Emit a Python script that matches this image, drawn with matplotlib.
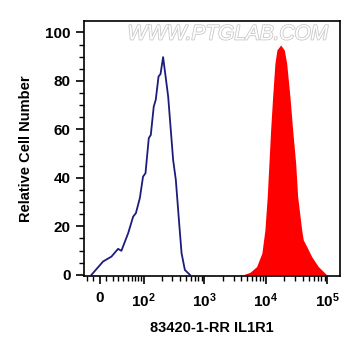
import numpy as np
import matplotlib
matplotlib.use("Agg")
import matplotlib.pyplot as plt
import matplotlib.ticker as mticker
import matplotlib.patheffects as pe

plt.rcParams['font.family'] = ['Liberation Sans', 'DejaVu Sans']
plt.rcParams['mathtext.fontset'] = 'custom'
plt.rcParams['mathtext.rm'] = 'Liberation Sans:bold'
plt.rcParams['mathtext.bf'] = 'Liberation Sans:bold'

# control (blue outline) histogram: fluorescence vs relative count
ctrl_x = [-12.6, 5.0, 18, 29.6, 36, 51, 64, 72, 85, 97, 107, 122, 132, 148,
          160, 178, 192, 212, 257, 310, 343, 389, 426, 482, 582]
ctrl_y = [0, 5.5, 7.5, 10.7, 9.9, 17.2, 24, 25.4, 31.6, 40.5, 41.9, 56.4, 57.7,
          69.4, 72.2, 81.8, 82.8, 89.8, 73.5, 47.4, 39.2, 21.3, 8.9, 2, 0]

# stained sample (red filled) histogram
stain_x = [4238, 5508, 7078, 8628, 9660, 10530, 11226, 11956, 12888, 14046,
           15140, 17396, 19910, 21780, 24620, 27240, 30500, 32860, 38180,
           40540, 46060, 55540, 71100, 97420]
stain_y = [0, 1, 3.4, 9, 18.6, 32.3, 46.1, 59.8, 73.5, 87.3, 92.8, 94.8, 92.8,
           87.3, 73.5, 59.8, 46.1, 32.3, 18.6, 14.4, 11.7, 7.5, 3.4, 0]

xticks = [0, 1e2, 1e3, 1e4, 1e5]
xticklabels = ['0', r'$\mathbf{10^{2}}$', r'$\mathbf{10^{3}}$',
               r'$\mathbf{10^{4}}$', r'$\mathbf{10^{5}}$']
yticks = [0, 20, 40, 60, 80, 100]

fig = plt.figure(figsize=(3.61, 3.56), dpi=100)
ax = fig.add_axes([0.2327, 0.2247, 0.709, 0.717])
ax.set_xscale('asinh', linear_width=40)

ax.fill_between(stain_x, stain_y, 0, color='#ff0000', lw=0)
ax.plot(ctrl_x, ctrl_y, color='#1c1c7a', lw=1.3)

ax.set_xlim(-25, 160000)
ax.set_ylim(-0.5, 104.8)

# minor ticks like a flow cytometry biexponential axis
minor = [-20, -10] + list(range(10, 100, 10))
for dec in [1e2, 1e3, 1e4]:
    minor += [dec * m for m in range(2, 10)]
ax.xaxis.set_major_locator(mticker.FixedLocator(xticks))
ax.xaxis.set_major_formatter(mticker.FixedFormatter(xticklabels))
ax.xaxis.set_minor_locator(mticker.FixedLocator(minor))
ax.xaxis.set_minor_formatter(mticker.NullFormatter())
ax.yaxis.set_major_locator(mticker.FixedLocator(yticks))
ax.yaxis.set_minor_locator(mticker.MultipleLocator(5))

ax.tick_params(axis='both', which='major', direction='out', length=6, width=1.2,
               labelsize=11)
ax.tick_params(axis='both', which='minor', direction='out', length=3.5, width=1)
ax.tick_params(axis='x', which='major', pad=5)
for lab in ax.get_xticklabels() + ax.get_yticklabels():
    lab.set_fontweight('bold')
for s in ax.spines.values():
    s.set_linewidth(1.2)

ax.set_xlabel('83420-1-RR IL1R1', fontsize=10.5, fontweight='bold', labelpad=8)
ax.set_ylabel('Relative Cell Number', fontsize=10.5, fontweight='bold', labelpad=9)

ax.text(0.5625, 0.948, 'WWW.PTGLAB.COM', transform=ax.transAxes, ha='center',
        va='center', fontsize=15, style='italic', color='white',
        path_effects=[pe.withStroke(linewidth=1.2, foreground='#c8c8c8')])

fig.savefig('out.png', dpi=100)
